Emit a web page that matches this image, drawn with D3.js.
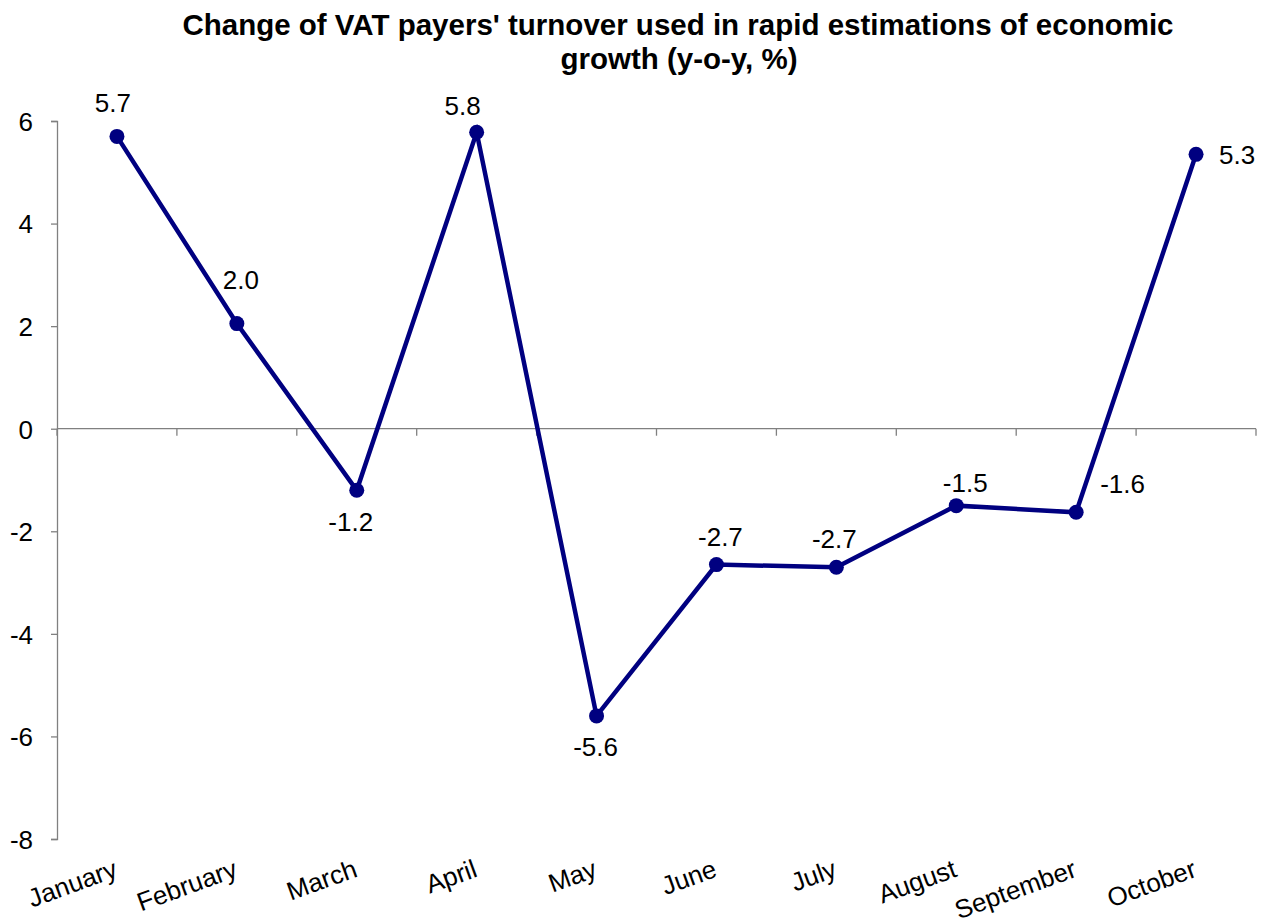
<!DOCTYPE html>
<html><head><meta charset="utf-8">
<script src="https://cdn.jsdelivr.net/npm/d3@7"></script>
<style>body{margin:0;background:#fff;} svg{display:block;font-family:Arial,"Liberation Sans",sans-serif;}</style>
</head><body>
<script>
const categories = ["January","February","March","April","May","June","July","August","September","October"];
const values = [5.7, 2.05, -1.2, 5.78, -5.6, -2.65, -2.7, -1.5, -1.63, 5.35];
const valueLabels = ["5.7","2.0","-1.2","5.8","-5.6","-2.7","-2.7","-1.5","-1.6","5.3"];
const yTicks = [-8,-6,-4,-2,0,2,4,6];
const titleLines = ["Change of VAT payers' turnover used in rapid estimations of economic", "growth (y-o-y, %)"];

(function(){
const W = 1271, H = 924;
const FONT = "Arial,'Liberation Sans',sans-serif";
const svg = d3.select("body").append("svg").attr("width", W).attr("height", H);
const pLeft = 57, pRight = 1256, pTop = 121, pBottom = 839;
// data-label layout (anchor, dx, dy relative to the marker), as placed in the reference
const labelLayout = [
  ["middle",-4,-24],["middle",4,-35],["middle",-6,41],["middle",-14,-17],["middle",-1,40],
  ["middle",4,-19],["middle",-2,-19],["middle",9,-14],["start",24,-19],["start",23,10]
];

const x = d3.scaleBand().domain(categories).range([pLeft, pRight]);
const y = d3.scaleLinear().domain([-8, 6]).range([pBottom, pTop]);

// title
svg.append("text").attr("x", 678).attr("y", 35).attr("text-anchor","middle")
  .attr("font-size", 29.5).attr("font-weight","bold").text(titleLines[0]);
svg.append("text").attr("x", 679).attr("y", 69).attr("text-anchor","middle")
  .attr("font-size", 29.5).attr("font-weight","bold").text(titleLines[1]);

// y axis
const yAxis = svg.append("g").attr("transform", `translate(${pLeft},0)`)
  .call(d3.axisLeft(y).tickValues(yTicks).tickSize(6).tickPadding(18).tickFormat(d => String(d)));
yAxis.select(".domain").attr("stroke","#808080").attr("stroke-width",1.3);
yAxis.selectAll(".tick line").attr("stroke","#808080").attr("stroke-width",1.3);
yAxis.selectAll(".tick text").attr("font-size", 26).attr("fill","#000").attr("font-family",FONT).attr("dy","0.36em");

// x axis at zero
const xAxisG = svg.append("g").attr("transform", `translate(0,${y(0)})`);
xAxisG.append("line").attr("x1", pLeft).attr("x2", pRight).attr("stroke","#808080").attr("stroke-width",1.3);
const bounds = categories.map(c => x(c) + x.bandwidth()).concat([pLeft]);
xAxisG.selectAll("line.t").data(bounds).enter().append("line").attr("class","t")
  .attr("x1", d=>d).attr("x2", d=>d).attr("y1",0).attr("y2",7)
  .attr("stroke","#808080").attr("stroke-width",1.3);

// x category labels, rotated
svg.append("g").selectAll("text").data(categories).enter().append("text")
  .attr("transform", d => `translate(${x(d)+x.bandwidth()/2+2},876) rotate(-20)`)
  .attr("text-anchor","end").attr("font-size",26).text(d=>d);

// line
const pts = categories.map((c,i)=>({c, v: values[i], l: valueLabels[i], lay: labelLayout[i]}));
const cx = d => x(d.c) + x.bandwidth()/2;
svg.append("path").datum(pts)
  .attr("d", d3.line().x(cx).y(d=>y(d.v)))
  .attr("fill","none").attr("stroke","#000080").attr("stroke-width",4.5).attr("stroke-linejoin","miter");
svg.append("g").selectAll("circle").data(pts).enter().append("circle")
  .attr("cx", cx).attr("cy", d=>y(d.v)).attr("r", 7.5).attr("fill","#000080");

// value labels
svg.append("g").selectAll("text").data(pts).enter().append("text")
  .attr("font-size",26)
  .attr("text-anchor", d => d.lay[0])
  .attr("x", d => cx(d) + d.lay[1])
  .attr("y", d => y(d.v) + d.lay[2])
  .text(d=>d.l);
})();
</script>
</body></html>
